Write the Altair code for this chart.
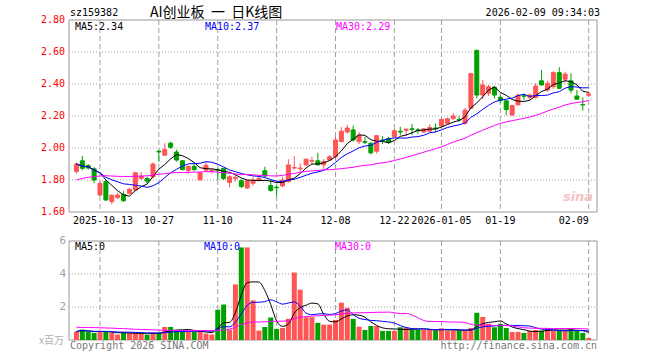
import altair as alt
import pandas as pd
import numpy as np

# ---------------- data ----------------
opens = [1.853, 1.92, 1.89, 1.87, 1.706, 1.79, 1.665, 1.69, 1.71, 1.717,
         1.737, 1.81, 1.81, 1.82, 1.98, 1.955, 2.03, 1.975, 1.92, 1.86,
         1.885, 1.80, 1.862, 1.855, 1.865, 1.873, 1.785, 1.81, 1.795, 1.75,
         1.78, 1.80, 1.858, 1.765, 1.755, 1.763, 1.79, 1.875, 1.87, 1.894,
         1.918, 1.92, 1.895, 1.925, 1.945, 2.04, 2.10, 2.113, 2.04, 2.04,
         2.03, 1.98, 2.05, 2.06, 2.07, 2.105, 2.11, 2.12, 2.113, 2.10,
         2.105, 2.125, 2.138, 2.154, 2.185, 2.178, 2.155, 2.248, 2.61, 2.331,
         2.342, 2.38, 2.317, 2.295, 2.206, 2.27, 2.327, 2.316, 2.316, 2.42,
         2.362, 2.383, 2.471, 2.43, 2.42, 2.325, 2.272, 2.33]
highs = [1.91, 1.95, 1.90, 1.88, 1.79, 1.80, 1.71, 1.72, 1.73, 1.75,
         1.85, 1.85, 1.82, 1.91, 1.985, 2.03, 2.04, 1.99, 1.925, 1.89,
         1.90, 1.85, 1.915, 1.87, 1.877, 1.875, 1.83, 1.83, 1.805, 1.80,
         1.82, 1.82, 1.883, 1.80, 1.77, 1.82, 1.93, 1.95, 1.905, 1.935,
         1.945, 1.97, 1.93, 1.955, 2.07, 2.13, 2.145, 2.14, 2.10, 2.07,
         2.035, 2.08, 2.075, 2.07, 2.12, 2.133, 2.12, 2.15, 2.125, 2.12,
         2.148, 2.154, 2.185, 2.19, 2.218, 2.20, 2.25, 2.47, 2.615, 2.425,
         2.395, 2.388, 2.33, 2.30, 2.27, 2.34, 2.34, 2.34, 2.405, 2.487,
         2.42, 2.48, 2.505, 2.477, 2.467, 2.362, 2.317, 2.352]
lows = [1.84, 1.86, 1.865, 1.78, 1.70, 1.67, 1.648, 1.68, 1.665, 1.71,
        1.73, 1.80, 1.78, 1.81, 1.915, 1.95, 1.995, 1.915, 1.86, 1.84,
        1.855, 1.80, 1.85, 1.84, 1.80, 1.80, 1.754, 1.79, 1.75, 1.745,
        1.765, 1.795, 1.817, 1.727, 1.696, 1.755, 1.785, 1.865, 1.85, 1.89,
        1.90, 1.89, 1.865, 1.92, 1.935, 2.035, 2.09, 2.04, 2.025, 2.025,
        1.96, 1.965, 2.025, 2.025, 2.065, 2.08, 2.075, 2.08, 2.088, 2.095,
        2.10, 2.10, 2.13, 2.15, 2.175, 2.165, 2.145, 2.245, 2.31, 2.305,
        2.325, 2.31, 2.28, 2.205, 2.20, 2.265, 2.30, 2.30, 2.31, 2.39,
        2.35, 2.37, 2.367, 2.408, 2.342, 2.30, 2.233, 2.32]
closes = [1.90, 1.873, 1.875, 1.80, 1.779, 1.675, 1.705, 1.706, 1.67, 1.742,
          1.845, 1.825, 1.793, 1.90, 1.975, 1.99, 2.005, 1.925, 1.865, 1.885,
          1.865, 1.845, 1.892, 1.862, 1.858, 1.81, 1.82, 1.815, 1.76, 1.795,
          1.80, 1.81, 1.825, 1.735, 1.752, 1.80, 1.894, 1.878, 1.875, 1.93,
          1.922, 1.895, 1.915, 1.945, 2.05, 2.105, 2.125, 2.05, 2.08, 2.035,
          1.97, 2.077, 2.045, 2.035, 2.108, 2.10, 2.118, 2.116, 2.108, 2.12,
          2.128, 2.121, 2.179, 2.183, 2.20, 2.175, 2.237, 2.465, 2.331, 2.394,
          2.383, 2.331, 2.297, 2.24, 2.265, 2.33, 2.323, 2.331, 2.387, 2.394,
          2.404, 2.471, 2.373, 2.462, 2.362, 2.305, 2.269, 2.338]
volumes = [0.51, 0.63, 0.51, 0.43, 0.51, 0.51, 0.43, 0.33, 0.43, 0.43,
           0.43, 0.43, 0.33, 0.43, 0.43, 0.79, 0.79, 0.57, 0.51, 0.51,
           0.51, 0.51, 0.39, 0.33, 1.83, 2.15, 0.63, 3.37, 5.61, 5.61,
           2.40, 0.57, 0.79, 1.36, 0.67, 0.73, 1.28, 4.09, 3.05, 1.38,
           1.38, 1.04, 0.93, 0.93, 1.22, 2.26, 1.95, 1.28, 0.81, 0.61,
           0.85, 0.85, 0.55, 0.55, 0.55, 0.77, 0.77, 0.61, 0.61, 0.61,
           0.61, 0.57, 0.71, 0.57, 0.57, 0.57, 0.57, 0.73, 1.65, 1.40,
           0.98, 0.77, 0.98, 0.73, 0.49, 0.49, 0.43, 0.55, 0.61, 0.57,
           0.71, 0.57, 0.57, 0.57, 0.65, 0.57, 0.43, 0.12]
# MA30 values at the first 29 days (they depend on days before the window)
ma30_price_head = [1.80, 1.81, 1.817, 1.821, 1.825, 1.827, 1.825, 1.823, 1.822, 1.822,
                   1.823, 1.824, 1.826, 1.831, 1.836, 1.840, 1.844, 1.846, 1.847, 1.848,
                   1.849, 1.85, 1.852, 1.852, 1.849, 1.845, 1.842, 1.838, 1.833]
ma30_vol_head = [0.77, 0.76, 0.76, 0.75, 0.74, 0.73, 0.72, 0.70, 0.69, 0.67,
                 0.65, 0.64, 0.63, 0.61, 0.60, 0.59, 0.58, 0.58, 0.57, 0.57,
                 0.57, 0.57, 0.57, 0.57, 0.58, 0.62, 0.66, 0.78, 0.95]
date_idx = [4, 14, 24, 34, 44, 54, 62, 72, 87]
date_labels = ["2025-10-13", "10-27", "11-10", "11-24", "12-08", "12-22",
               "2026-01-05", "01-19", "02-09"]
price_ticks = [1.6, 1.8, 2.0, 2.2, 2.4, 2.6, 2.8]
price_grid = [1.8, 2.0, 2.2, 2.4, 2.6]
vol_ticks = [2, 4, 6]
vol_grid = [2, 4]

# ---------------- tables ----------------
n = len(closes)
df = pd.DataFrame({"i": list(range(n)), "open": opens, "high": highs,
                   "low": lows, "close": closes, "vol": volumes})
df["dir"] = np.where(df["close"] >= df["open"], "up", "down")
df["ma5"] = df["close"].rolling(5, min_periods=1).mean()
df["ma10"] = df["close"].rolling(10, min_periods=1).mean()
m30 = df["close"].rolling(30).mean()
m30.iloc[:len(ma30_price_head)] = ma30_price_head
df["ma30"] = m30
df["vma5"] = df["vol"].rolling(5, min_periods=1).mean()
df["vma10"] = df["vol"].rolling(10, min_periods=1).mean()
v30 = df["vol"].rolling(30).mean()
v30.iloc[:len(ma30_vol_head)] = ma30_vol_head
df["vma30"] = v30

dates = pd.DataFrame({"i": date_idx, "label": date_labels})
ptk = pd.DataFrame({"v": price_ticks})
pgr = pd.DataFrame({"v": price_grid})
vtk = pd.DataFrame({"v": vol_ticks})
vgr = pd.DataFrame({"v": vol_grid})
one = pd.DataFrame({"k": [0]})

RED = "#ff5555"
GREEN = "#00a000"
GRID = "#a0a0a0"
FRAME = "#999999"
MONO = "DejaVu Sans Mono"
CJK = "Noto Sans CJK SC"

L, R = 69, 597
PT, PB = 20, 212
VT, VB = 241, 340

X = alt.Scale(domain=[-0.5, 87.65], range=[L - 0.5, R + 0.5])
YP = alt.Scale(domain=[1.6, 2.8], range=[PB, PT], zero=False, nice=False)
YV = alt.Scale(domain=[0, 6], range=[VB, VT], zero=False, nice=False)
cdir = alt.Scale(domain=["up", "down"], range=[RED, GREEN])

xi = alt.X("i:Q", scale=X, axis=None)

base = alt.Chart(df)

# ---------------- main (price) panel ----------------
frame_p = alt.Chart(one).mark_rect(filled=False, stroke=FRAME, strokeWidth=1).encode(
    x=alt.value(L), x2=alt.value(R), y=alt.value(PT), y2=alt.value(PB))
hgrid_p = alt.Chart(pgr).mark_rule(color=GRID, strokeDash=[1, 2], strokeWidth=1).encode(
    y=alt.Y("v:Q", scale=YP, axis=None), x=alt.value(L), x2=alt.value(R))
vgrid_p = alt.Chart(dates).mark_rule(color=GRID, strokeDash=[5, 3], strokeWidth=1).encode(
    x=xi, y=alt.value(PT), y2=alt.value(PB))
wicks = base.mark_rule(strokeWidth=1).encode(
    x=xi, y=alt.Y("low:Q", scale=YP, axis=None), y2="high:Q",
    color=alt.Color("dir:N", scale=cdir, legend=None))
bodies = base.mark_bar(size=4, strokeWidth=1).encode(
    x=xi, y=alt.Y("open:Q", scale=YP, axis=None), y2="close:Q",
    color=alt.Color("dir:N", scale=cdir, legend=None),
    stroke=alt.Stroke("dir:N", scale=cdir, legend=None))
ma5 = base.mark_line(color="black", strokeWidth=1).encode(
    x=xi, y=alt.Y("ma5:Q", scale=YP, axis=None))
ma10 = base.mark_line(color="#0000ff", strokeWidth=1).encode(
    x=xi, y=alt.Y("ma10:Q", scale=YP, axis=None))
ma30 = base.mark_line(color="#ff00ff", strokeWidth=1).encode(
    x=xi, y=alt.Y("ma30:Q", scale=YP, axis=None))
ylab_p = alt.Chart(ptk).mark_text(align="right", baseline="middle", font=MONO,
                                  fontSize=10, color="#ff0000").encode(
    y=alt.Y("v:Q", scale=YP, axis=None), x=alt.value(L - 4),
    text=alt.Text("v:Q", format=".2f"))
dl_mid = alt.Chart(dates).transform_filter(
    "datum.i > 4 && datum.i < 87").mark_text(
    align="center", baseline="middle", font=MONO, fontSize=10, color="black").encode(
    x=xi, y=alt.value(221), text="label:N")
dl_first = alt.Chart(dates).transform_filter("datum.i == 4").mark_text(
    align="center", baseline="middle", font=MONO, fontSize=10, color="black", dx=3).encode(
    x=xi, y=alt.value(221), text="label:N")
dl_last = alt.Chart(dates).transform_filter("datum.i == 87").mark_text(
    align="center", baseline="middle", font=MONO, fontSize=10, color="black", dx=-15).encode(
    x=xi, y=alt.value(221), text="label:N")

main = alt.layer(frame_p, hgrid_p, vgrid_p, wicks, bodies, ma5, ma10, ma30,
                 ylab_p, dl_mid, dl_first, dl_last)

# ---------------- volume panel ----------------
frame_v = alt.Chart(one).mark_rect(filled=False, stroke=FRAME, strokeWidth=1).encode(
    x=alt.value(L), x2=alt.value(R), y=alt.value(VT), y2=alt.value(VB))
hgrid_v = alt.Chart(vgr).mark_rule(color=GRID, strokeDash=[1, 2], strokeWidth=1).encode(
    y=alt.Y("v:Q", scale=YV, axis=None), x=alt.value(L), x2=alt.value(R))
vgrid_v = alt.Chart(dates).mark_rule(color=GRID, strokeDash=[5, 3], strokeWidth=1).encode(
    x=xi, y=alt.value(VT), y2=alt.value(VB))
vbars = base.mark_bar(size=5).encode(
    x=xi, y=alt.Y("vol:Q", scale=YV, axis=None),
    color=alt.Color("dir:N", scale=cdir, legend=None))
vma5 = base.mark_line(color="black", strokeWidth=1, interpolate="monotone").encode(
    x=xi, y=alt.Y("vma5:Q", scale=YV, axis=None))
vma10 = base.mark_line(color="#0000ff", strokeWidth=1, interpolate="monotone").encode(
    x=xi, y=alt.Y("vma10:Q", scale=YV, axis=None))
vma30 = base.mark_line(color="#ff00ff", strokeWidth=1, interpolate="monotone").encode(
    x=xi, y=alt.Y("vma30:Q", scale=YV, axis=None))
ylab_v = alt.Chart(vtk).mark_text(align="right", baseline="middle", font=MONO,
                                  fontSize=11, color="#a0a0a0").encode(
    y=alt.Y("v:Q", scale=YV, axis=None), x=alt.value(L - 3), text="v:Q")

vol = alt.layer(frame_v, hgrid_v, vgrid_v, vbars, vma5, vma10, vma30, ylab_v)


# ---------------- static texts ----------------
def txt(s, x, y, color="black", size=10, font=MONO, align="left", **kw):
    return alt.Chart(pd.DataFrame({"t": [s]})).mark_text(
        align=align, baseline="middle", font=font, fontSize=size, color=color, **kw).encode(
        x=alt.value(x), y=alt.value(y), text="t:N")


NB = "\u00a0"
texts = alt.layer(
    txt("sz159382", 70, 13),
    txt("AI创业板" + NB * 2 + "一" + NB * 2 + "日K线图", 150, 13, size=14, font=CJK),
    txt("2026-02-09 09:34:03", 600, 13, align="right"),
    txt("MA5:2.34", 75, 27),
    txt("MA10:2.37", 205, 27, color="#0000ff"),
    txt("MA30:2.29", 336, 27, color="#ff00ff"),
    txt("MA5:0", 75, 247),
    txt("MA10:0", 204, 247, color="#0000ff"),
    txt("MA30:0", 335, 247, color="#ff00ff"),
    txt("x百万", 64, 341, color="#b0b0b0", size=10, font=CJK, align="right"),
    txt("Copyright 2026 SINA.COM", 70, 346, color="#777777"),
    txt("http://finance.sina.com.cn", 597, 346, color="#777777", align="right"),
    txt("sina", 578, 197, color="#f3c4c4", size=13, font="DejaVu Sans",
        align="center", fontStyle="italic", fontWeight="bold"),
)

chart = alt.layer(main, vol, texts).resolve_scale(y="independent").properties(
    width=660, height=360, padding=0,
    autosize=alt.AutoSizeParams(type="none"),
    background="white",
).configure_view(stroke=None)

chart.save("out.html", embed_options={"renderer": "svg", "actions": False})
